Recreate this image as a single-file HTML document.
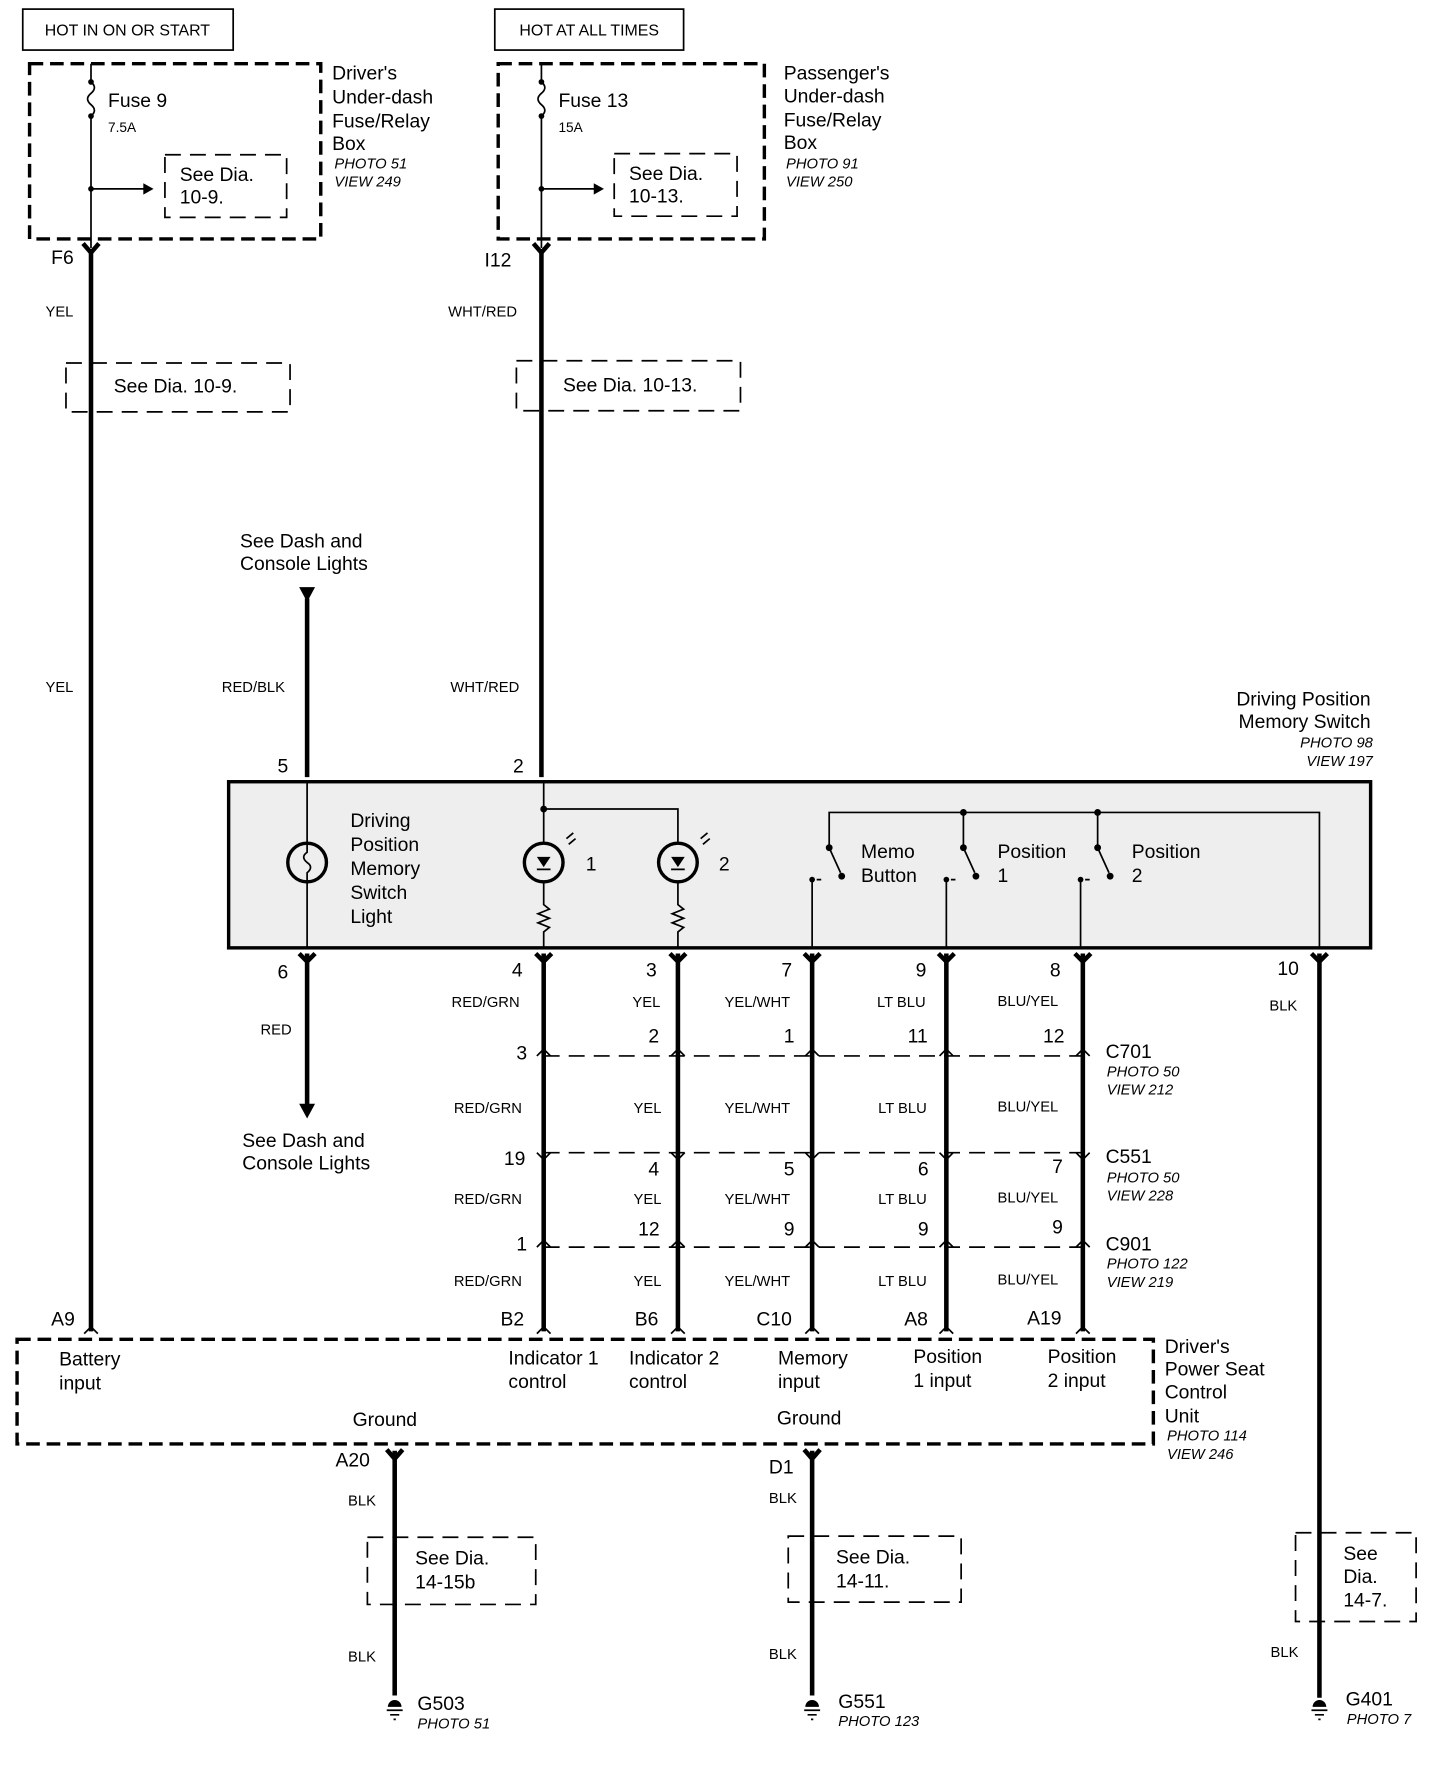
<!DOCTYPE html>
<html><head><meta charset="utf-8"><style>
html,body{margin:0;padding:0;background:#fff}
svg{display:block}
text{font-family:"Liberation Sans",sans-serif;fill:#000}
.l{font-size:17px}
.s{font-size:13px}
.i{font-size:13px;font-style:italic}
.w{stroke:#000;stroke-width:4;fill:none}
.t{stroke:#000;stroke-width:1.5;fill:none}
.d{stroke:#000;stroke-width:3;fill:none;stroke-dasharray:12 6}
.db{stroke:#000;stroke-width:1.5;fill:none;stroke-dasharray:14 8}
</style></head><body>
<svg width="1440" height="1766" viewBox="0 0 1266 1552" preserveAspectRatio="none" xmlns="http://www.w3.org/2000/svg">
<rect width="1266" height="1552" fill="#fff"/>
<!-- top boxes -->
<rect x="20" y="8" width="185" height="36" class="t" stroke-width="2"/>
<text x="112" y="31" font-size="14" text-anchor="middle">HOT IN ON OR START</text>
<rect x="435" y="8" width="166" height="36" class="t" stroke-width="2"/>
<text x="518" y="31" font-size="14" text-anchor="middle">HOT AT ALL TIMES</text>

<rect x="26" y="56" width="256" height="154" fill="#f2f2f2" class="d"/>
<rect x="438" y="56" width="234" height="154" fill="#f2f2f2" class="d"/>
<!-- fuses -->
<path class="t" d="M80 56V72 q6 5 0 10 q-6 5 0 10 q6 5 0 10 V218"/>
<circle cx="80" cy="72" r="2.5"/><circle cx="80" cy="102" r="2.5"/><circle cx="80" cy="166" r="2.5"/>
<path class="t" d="M80 166H128"/><path d="M126 161l9 5-9 5z"/>
<text x="95" y="94" class="l">Fuse 9</text><text x="95" y="116" font-size="12">7.5A</text>
<rect x="145" y="136" width="107" height="55" class="db"/>
<text x="158" y="159" class="l">See  Dia.</text><text x="158" y="179" class="l">10-9.</text>
<text x="292" y="70" class="l">Driver's</text><text x="292" y="91" class="l">Under-dash</text><text x="292" y="112" class="l">Fuse/Relay</text><text x="292" y="132" class="l">Box</text>
<text x="294" y="148" class="i">PHOTO 51</text><text x="294" y="164" class="i">VIEW 249</text>

<path class="t" d="M476 56V72 q6 5 0 10 q-6 5 0 10 q6 5 0 10 V218"/>
<circle cx="476" cy="72" r="2.5"/><circle cx="476" cy="102" r="2.5"/><circle cx="476" cy="166" r="2.5"/>
<path class="t" d="M476 166H524"/><path d="M522 161l9 5-9 5z"/>
<text x="491" y="94" class="l">Fuse 13</text><text x="491" y="116" font-size="12">15A</text>
<rect x="540" y="135" width="108" height="55" class="db"/>
<text x="553" y="158" class="l">See  Dia.</text><text x="553" y="178" class="l">10-13.</text>
<text x="689" y="70" class="l">Passenger's</text><text x="689" y="90" class="l">Under-dash</text><text x="689" y="111" class="l">Fuse/Relay</text><text x="689" y="131" class="l">Box</text>
<text x="691" y="148" class="i">PHOTO 91</text><text x="691" y="164" class="i">VIEW 250</text>

<!-- main wires -->
<path class="w" d="M80 222V1170"/>
<path class="w" d="M476 222V683"/>
<path d="M73 214l7 8 7-8 M469 214l7 8 7-8" class="w" stroke-width="3"/>
<text x="45" y="232" class="l">F6</text><text x="426" y="234" class="l">I12</text>
<text x="40" y="278" class="s">YEL</text><text x="40" y="608" class="s">YEL</text>
<text x="394" y="278" class="s">WHT/RED</text><text x="396" y="608" class="s">WHT/RED</text>
<rect x="58" y="319" width="197" height="43" class="db"/>
<text x="100" y="345" class="l">See  Dia.  10-9.</text>
<rect x="454" y="317" width="197" height="44" class="db"/>
<text x="495" y="344" class="l">See  Dia.  10-13.</text>

<text x="211" y="481" class="l">See Dash and</text><text x="211" y="501" class="l">Console Lights</text>
<path d="M263 516h14l-7 13z"/>
<path class="w" d="M270 526V683"/>
<text x="195" y="608" class="s">RED/BLK</text>
<text x="244" y="679" class="l">5</text><text x="451" y="679" class="l">2</text>

<text x="1205" y="620" class="l" text-anchor="end">Driving Position</text>
<text x="1205" y="640" class="l" text-anchor="end">Memory Switch</text>
<text x="1207" y="657" class="i" text-anchor="end">PHOTO 98</text>
<text x="1207" y="673" class="i" text-anchor="end">VIEW 197</text>

<!-- switch box -->
<rect x="201" y="687" width="1004" height="146" fill="#eeeeee" stroke="#000" stroke-width="3"/>
<path class="t" d="M270 687V741 M270 775V833 M478 687V741 M478 775V795 l5 4 -10 4 10 4 -10 4 10 4 -5 4 V833 M478 711H596V741 M596 775V795 l5 4 -10 4 10 4 -10 4 10 4 -5 4 V833"/>
<circle cx="478" cy="711" r="3"/>
<circle cx="270" cy="758" r="17" fill="none" stroke="#000" stroke-width="3"/>
<path class="t" d="M270 741 v8 q-6 4 0 9 q6 4 0 9 v8"/>
<circle cx="478" cy="758" r="17" fill="none" stroke="#000" stroke-width="3"/>
<circle cx="596" cy="758" r="17" fill="none" stroke="#000" stroke-width="3"/>
<path d="M472 753h12l-6 9z M590 753h12l-6 9z"/><path class="t" d="M472 764h12 M590 764h12"/>
<path class="t" d="M500 742l6-5 M498 737l6-5 M618 742l6-5 M616 737l6-5"/>
<text x="515" y="765" class="l">1</text><text x="632" y="765" class="l">2</text>
<text x="308" y="727" class="l">Driving</text><text x="308" y="748" class="l">Position</text><text x="308" y="769" class="l">Memory</text><text x="308" y="790" class="l">Switch</text><text x="308" y="811" class="l">Light</text>
<path class="t" d="M729 745V714H1160V833 M847 714V745 M965 714V745"/>
<circle cx="847" cy="714" r="3"/><circle cx="965" cy="714" r="3"/>
<path class="t" d="M729 745l10 22 M847 745l10 22 M965 745l10 22"/>
<circle cx="729" cy="745" r="3"/><circle cx="847" cy="745" r="3"/><circle cx="965" cy="745" r="3"/>
<circle cx="740" cy="770" r="3"/><circle cx="858" cy="770" r="3"/><circle cx="976" cy="770" r="3"/>
<path class="t" d="M714 773V833 M832 773V833 M950 773V833"/>
<circle cx="714" cy="773" r="2.5"/><circle cx="832" cy="773" r="2.5"/><circle cx="950" cy="773" r="2.5"/>
<path class="t" d="M718 773h4 M836 773h4 M954 773h4" />
<text x="757" y="754" class="l">Memo</text><text x="757" y="775" class="l">Button</text>
<text x="877" y="754" class="l">Position</text><text x="877" y="775" class="l">1</text>
<text x="995" y="754" class="l">Position</text><text x="995" y="775" class="l">2</text>

<!-- lower wires -->
<path class="w" d="M270 838V972 M478 838V1170 M596 838V1170 M714 838V1170 M832 838V1170 M952 838V1170 M1160 838V1492"/>
<path d="M263 838l7 7 7-7 M471 838l7 7 7-7 M589 838l7 7 7-7 M707 838l7 7 7-7 M825 838l7 7 7-7 M945 838l7 7 7-7 M1153 838l7 7 7-7" class="w" stroke-width="3"/>
<path d="M263 970h14l-7 13z"/>
<text x="244" y="860" class="l">6</text><text x="450" y="858" class="l">4</text><text x="568" y="858" class="l">3</text><text x="687" y="858" class="l">7</text><text x="805" y="858" class="l">9</text><text x="923" y="858" class="l">8</text><text x="1123" y="857" class="l">10</text>
<text x="229" y="909" class="s">RED</text>
<text x="397" y="885" class="s">RED/GRN</text><text x="556" y="885" class="s">YEL</text><text x="637" y="885" class="s">YEL/WHT</text><text x="771" y="885" class="s">LT BLU</text><text x="877" y="884" class="s">BLU/YEL</text><text x="1116" y="888" class="s">BLK</text>
<text x="213" y="1008" class="l">See Dash and</text><text x="213" y="1028" class="l">Console Lights</text>

<path class="db" d="M478 928H952 M478 1013H952 M478 1096H952"/>
<g class="t" stroke-width="2">
<path d="M472 928l6-6 6 6 M590 928l6-6 6 6 M708 928l6-6 6 6 M826 928l6-6 6 6 M946 928l6-6 6 6"/>
<path d="M472 1013l6 6 6-6 M590 1013l6 6 6-6 M708 1013l6 6 6-6 M826 1013l6 6 6-6 M946 1013l6 6 6-6"/>
<path d="M472 1096l6-6 6 6 M590 1096l6-6 6 6 M708 1096l6-6 6 6 M826 1096l6-6 6 6 M946 1096l6-6 6 6"/>
<path d="M472 1172l6-6 6 6 M590 1172l6-6 6 6 M708 1172l6-6 6 6 M826 1172l6-6 6 6 M946 1172l6-6 6 6 M74 1172l6-6 6 6"/>
</g>
<text x="454" y="931" class="l">3</text><text x="570" y="916" class="l">2</text><text x="689" y="916" class="l">1</text><text x="798" y="916" class="l">11</text><text x="917" y="916" class="l">12</text>
<text x="972" y="930" class="l">C701</text><text x="973" y="946" class="i">PHOTO 50</text><text x="973" y="962" class="i">VIEW 212</text>
<text x="399" y="978" class="s">RED/GRN</text><text x="557" y="978" class="s">YEL</text><text x="637" y="978" class="s">YEL/WHT</text><text x="772" y="978" class="s">LT BLU</text><text x="877" y="977" class="s">BLU/YEL</text>
<text x="443" y="1024" class="l">19</text><text x="570" y="1033" class="l">4</text><text x="689" y="1033" class="l">5</text><text x="807" y="1033" class="l">6</text><text x="925" y="1031" class="l">7</text>
<text x="972" y="1022" class="l">C551</text><text x="973" y="1039" class="i">PHOTO 50</text><text x="973" y="1055" class="i">VIEW 228</text>
<text x="399" y="1058" class="s">RED/GRN</text><text x="557" y="1058" class="s">YEL</text><text x="637" y="1058" class="s">YEL/WHT</text><text x="772" y="1058" class="s">LT BLU</text><text x="877" y="1057" class="s">BLU/YEL</text>
<text x="454" y="1099" class="l">1</text><text x="561" y="1086" class="l">12</text><text x="689" y="1086" class="l">9</text><text x="807" y="1086" class="l">9</text><text x="925" y="1084" class="l">9</text>
<text x="972" y="1099" class="l">C901</text><text x="973" y="1115" class="i">PHOTO 122</text><text x="973" y="1131" class="i">VIEW 219</text>
<text x="399" y="1130" class="s">RED/GRN</text><text x="557" y="1130" class="s">YEL</text><text x="637" y="1130" class="s">YEL/WHT</text><text x="772" y="1130" class="s">LT BLU</text><text x="877" y="1129" class="s">BLU/YEL</text>
<text x="45" y="1165" class="l">A9</text><text x="440" y="1165" class="l">B2</text><text x="558" y="1165" class="l">B6</text><text x="665" y="1165" class="l">C10</text><text x="795" y="1165" class="l">A8</text><text x="903" y="1164" class="l">A19</text>

<!-- control unit -->
<rect x="15" y="1177" width="999" height="92" fill="#f0f0f0" class="d"/>
<text x="52" y="1200" class="l">Battery</text><text x="52" y="1221" class="l">input</text>
<text x="447" y="1199" class="l">Indicator 1</text><text x="447" y="1220" class="l">control</text>
<text x="553" y="1199" class="l">Indicator 2</text><text x="553" y="1220" class="l">control</text>
<text x="684" y="1199" class="l">Memory</text><text x="684" y="1220" class="l">input</text>
<text x="803" y="1198" class="l">Position</text><text x="803" y="1219" class="l">1 input</text>
<text x="921" y="1198" class="l">Position</text><text x="921" y="1219" class="l">2 input</text>
<text x="310" y="1253" class="l">Ground</text><text x="683" y="1252" class="l">Ground</text>
<text x="1024" y="1189" class="l">Driver's</text><text x="1024" y="1209" class="l">Power Seat</text><text x="1024" y="1229" class="l">Control</text><text x="1024" y="1250" class="l">Unit</text>
<text x="1026" y="1266" class="i">PHOTO 114</text><text x="1026" y="1282" class="i">VIEW 246</text>

<path class="w" d="M347 1275V1490 M714 1275V1490"/>
<path d="M340 1274l7 8 7-8 M707 1274l7 8 7-8" class="w" stroke-width="3"/>
<text x="295" y="1289" class="l">A20</text><text x="676" y="1295" class="l">D1</text>
<text x="306" y="1323" class="s">BLK</text><text x="676" y="1321" class="s">BLK</text>
<text x="306" y="1460" class="s">BLK</text><text x="676" y="1458" class="s">BLK</text><text x="1117" y="1456" class="s">BLK</text>
<rect x="323" y="1351" width="148" height="59" class="db"/>
<text x="365" y="1375" class="l">See  Dia.</text><text x="365" y="1396" class="l">14-15b</text>
<rect x="693" y="1350" width="152" height="58" class="db"/>
<text x="735" y="1374" class="l">See  Dia.</text><text x="735" y="1395" class="l">14-11.</text>
<rect x="1139" y="1347" width="106" height="78" class="db"/>
<text x="1181" y="1371" class="l">See</text><text x="1181" y="1391" class="l">Dia.</text><text x="1181" y="1412" class="l">14-7.</text>
<g fill="#000">
<path d="M341 1500a6 6 0 0 1 12 0z M708 1500a6 6 0 0 1 12 0z M1154 1500a6 6 0 0 1 12 0z"/>
</g>
<path class="t" d="M340 1503h14 M343 1507h8 M346 1511h2 M707 1503h14 M710 1507h8 M713 1511h2 M1153 1503h14 M1156 1507h8 M1159 1511h2"/>
<text x="367" y="1503" class="l">G503</text><text x="367" y="1519" class="i">PHOTO 51</text>
<text x="737" y="1501" class="l">G551</text><text x="737" y="1517" class="i">PHOTO 123</text>
<text x="1183" y="1499" class="l">G401</text><text x="1184" y="1515" class="i">PHOTO 7</text>
</svg>
</body></html>
